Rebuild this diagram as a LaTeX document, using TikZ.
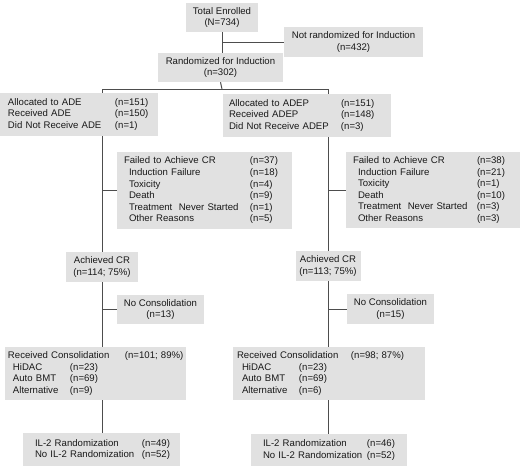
\documentclass[tikz,border=0pt]{standalone}
\usepackage{fontspec}
\setmainfont{Liberation Sans}
\definecolor{boxgray}{HTML}{E1E1E1}
\definecolor{linegray}{HTML}{4D4D4D}
\newcommand{\colw}[2]{\makebox[#2][l]{#1}}
\newcommand{\ind}{\hspace*{5pt}}
\begin{document}
\begin{tikzpicture}[x=1pt,y=-1pt,
	box/.style={fill=boxgray,inner ysep=0pt,font=\fontsize{9.6}{11.6}\selectfont,text=black!90},
	cbox/.style={box,align=center,inner xsep=0pt},
	lbox/.style={box,align=left},
	link/.style={draw=linegray,line width=1pt}]
	\useasboundingbox (0,0) rectangle (520,466);
	
	% top of the chart
	\node[cbox,minimum width=72,minimum height=29] (total) at (222,17.5) {Total Enrolled\\(N=734)};
	\node[cbox,minimum width=139,minimum height=30] (notrand) at (353.5,42) {Not randomized for Induction\\(n=432)};
	\node[cbox,minimum width=125,minimum height=29] (rand) at (220.5,67.5) {Randomized for Induction\\(n=302)};
	\coordinate (fork) at (222,89);
	
	% the two arms
	\node[lbox,text width=142pt,inner xsep=8pt,minimum height=43] (ade) at (79,114.5) {\colw{Allocated to ADE}{107pt}(n=151)\\ \colw{Received ADE}{107pt}(n=150)\\ \colw{Did Not Receive ADE}{107pt}(n=1)};
	\node[lbox,text width=156pt,inner xsep=6pt,minimum height=43] (adep) at (307,115.5) {\colw{Allocated to ADEP}{112pt}(n=151)\\ \colw{Received ADEP}{112pt}(n=148)\\ \colw{Did Not Receive ADEP}{112pt}(n=3)};
	
	\node[lbox,text width=161pt,inner xsep=7pt,minimum height=77] (failL) at (204.5,190.5) {\colw{Failed to Achieve CR}{126pt}(n=37)\\ \ind\colw{Induction Failure}{121pt}(n=18)\\ \ind\colw{Toxicity}{121pt}(n=4)\\ \ind\colw{Death}{121pt}(n=9)\\ \ind\colw{Treatment\ \ Never Started}{121pt}(n=1)\\ \ind\colw{Other Reasons}{121pt}(n=5)};
	\node[lbox,text width=160pt,inner xsep=7pt,minimum height=76] (failR) at (433,190) {\colw{Failed to Achieve CR}{124pt}(n=38)\\ \ind\colw{Induction Failure}{119pt}(n=21)\\ \ind\colw{Toxicity}{119pt}(n=1)\\ \ind\colw{Death}{119pt}(n=10)\\ \ind\colw{Treatment\ \ Never Started}{119pt}(n=3)\\ \ind\colw{Other Reasons}{119pt}(n=3)};
	
	\node[cbox,minimum width=72,minimum height=30] (crL) at (102,267) {Achieved CR\\(n=114; 75\%)};
	\node[cbox,minimum width=65,minimum height=30] (crR) at (328,266) {Achieved CR\\(n=113; 75\%)};
	
	\node[cbox,minimum width=87,minimum height=29] (noconL) at (160.5,309.5) {No Consolidation\\(n=13)};
	\node[cbox,minimum width=87,minimum height=30] (noconR) at (390.5,309) {No Consolidation\\(n=15)};
	
	\node[lbox,text width=175pt,inner xsep=3pt,minimum height=53] (recL) at (95.5,373.5) {\colw{Received Consolidation}{117pt}\mbox{(n=101; 89\%)}\\ \ind\colw{HiDAC}{57pt}(n=23)\\ \ind\colw{Auto BMT}{57pt}(n=69)\\ \ind\colw{Alternative}{57pt}(n=9)};
	\node[lbox,text width=184pt,inner xsep=4pt,minimum height=53] (recR) at (329,373.5) {\colw{Received Consolidation}{114pt}\mbox{(n=98; 87\%)}\\ \ind\colw{HiDAC}{57pt}(n=23)\\ \ind\colw{Auto BMT}{57pt}(n=69)\\ \ind\colw{Alternative}{57pt}(n=6)};
	
	\node[lbox,text width=133pt,inner xsep=12pt,minimum height=33] (il2L) at (101.5,449.5) {\colw{IL-2 Randomization}{107pt}(n=49)\\ \colw{No IL-2 Randomization}{107pt}(n=52)};
	\node[lbox,text width=132pt,inner xsep=12pt,minimum height=32] (il2R) at (329,450) {\colw{IL-2 Randomization}{104pt}(n=46)\\ \colw{No IL-2 Randomization}{104pt}(n=52)};
	
	% connectors
	\draw[link] (total.south) -- (total.south |- rand.north);
	\draw[link] (total.south |- notrand.west) -- (notrand.west);
	\draw[link] (rand.south) -- (fork);
	\draw[link] (crL |- ade.north) -- (crL |- fork) -- (crR |- fork) -- (crR |- adep.north);
	\foreach \arm/\cr/\fail/\nocon/\rec/\il in {ade/crL/failL/noconL/recL/il2L, adep/crR/failR/noconR/recR/il2R}{
		\draw[link] (\cr |- \arm.south) -- (\cr.north);
		\draw[link] (\cr |- \fail.west) -- (\fail.west);
		\draw[link] (\cr.south) -- (\cr |- \rec.north);
		\draw[link] (\cr |- \nocon.west) -- (\nocon.west);
		\draw[link] (\cr |- \rec.south) -- (\cr |- \il.north);
	}
\end{tikzpicture}
\end{document}
